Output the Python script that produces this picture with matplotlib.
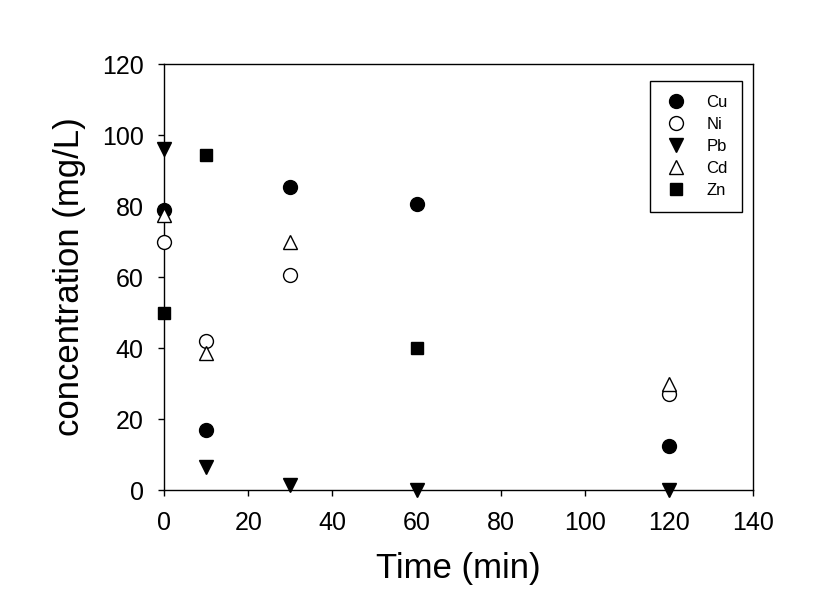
import matplotlib
matplotlib.use("Agg")
import matplotlib.pyplot as plt
from matplotlib import font_manager

# data
cu_t = [0, 10, 30, 60, 120]
cu_c = [79, 17, 85.5, 80.5, 12.5]
ni_t = [0, 10, 30, 120]
ni_c = [70, 42, 60.5, 27]
pb_t = [0, 10, 30, 60, 120]
pb_c = [96, 6.5, 1.5, 0, 0]
cd_t = [0, 10, 30, 120]
cd_c = [77.5, 38.5, 70, 30]
zn_t = [0, 10, 60]
zn_c = [50, 94.5, 40]

names = {f.name for f in font_manager.fontManager.ttflist}
family = ["Liberation Sans Narrow", "Liberation Sans", "DejaVu Sans"]
family = [f for f in family if f in names] or ["DejaVu Sans"]
plt.rcParams["font.family"] = family


def main():
    fig = plt.figure(figsize=(8.33, 6.05), dpi=100)
    ax = fig.add_axes([0.197, 0.190, 0.707, 0.704])

    ms = 10
    ax.plot(cu_t, cu_c, "o", color="black", ms=ms, label="Cu", clip_on=False, zorder=3)
    ax.plot(ni_t, ni_c, "o", mfc="white", mec="black", mew=1, ms=ms, label="Ni", clip_on=False, zorder=3)
    ax.plot(pb_t, pb_c, "v", color="black", ms=ms, label="Pb", clip_on=False, zorder=3)
    ax.plot(cd_t, cd_c, "^", mfc="white", mec="black", mew=1, ms=ms, label="Cd", clip_on=False, zorder=3)
    ax.plot(zn_t, zn_c, "s", color="black", ms=ms - 1, label="Zn", clip_on=False, zorder=3)

    ax.set_xlim(0, 140)
    ax.set_ylim(0, 120)
    ax.set_xticks(range(0, 141, 20))
    ax.set_yticks(range(0, 121, 20))
    ax.tick_params(direction="out", length=4.3, width=1, labelsize=18)
    ax.tick_params(axis="x", pad=11)
    ax.tick_params(axis="y", pad=10.5)
    for s in ax.spines.values():
        s.set_linewidth(1)

    ax.set_xlabel("Time (min)", fontsize=25, labelpad=12)
    ax.set_ylabel("concentration (mg/L)", fontsize=25, labelpad=11)

    leg = ax.legend(loc="upper right", bbox_to_anchor=(0.995, 0.98), fontsize=12,
                    fancybox=False, edgecolor="black", framealpha=1,
                    markerscale=1.0, handletextpad=1.1, labelspacing=0.42,
                    borderpad=0.85, handlelength=1.4)
    leg.get_frame().set_linewidth(1)

    fig.savefig("out.png", dpi=100)


if __name__ == "__main__":
    main()
